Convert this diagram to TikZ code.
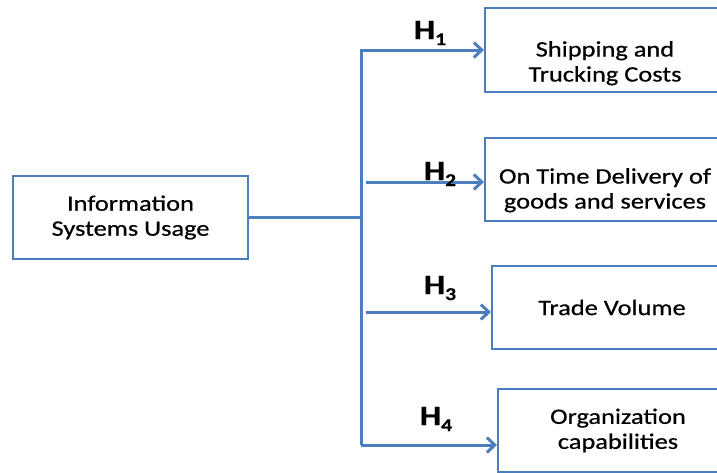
\documentclass[tikz,border=0pt]{standalone}
\usepackage{fontspec}
\setmainfont{Carlito}[FakeStretch=1.2, FakeBold=0.6]
\usetikzlibrary{arrows.meta}
\definecolor{lineblue}{RGB}{74,126,189}
\newcommand{\hyp}[1]{{\fontsize{28}{28}\selectfont\bfseries H\raisebox{-6pt}{\fontsize{18}{18}\selectfont #1}}}
\begin{document}
\begin{tikzpicture}[x=1pt, y=-1pt,
		box/.style={draw=lineblue, line width=2pt, minimum height=83pt, align=center, font=\fontsize{22}{25}\selectfont},
		link/.style={draw=lineblue, line width=3pt},
		arr/.style={link, -{Straight Barb[length=8pt, width=15pt]}}]
	\useasboundingbox (0,0) rectangle (717,472);
	\clip (0,0) rectangle (717,472);
	\node[box, minimum width=235pt] (isu) at (130.5,217.5) {Information\\Systems Usage};
	\node[box, minimum width=240pt, minimum height=84pt, text height=69pt, text depth=6pt] (ship) at (605,50) {Shipping and\\Trucking Costs};
	\node[box, minimum width=240pt, text height=65pt, text depth=6pt] (otd) at (605,179) {On Time Delivery of\\goods and services};
	\node[box, minimum width=240pt] (trade) at (612,307.5) {Trade Volume};
	\node[box, minimum width=240pt] (org) at (618,430.5) {Organization\\capabilities};
	\coordinate (s2) at (366,182);
	\coordinate (s3) at (366,312);
	\coordinate (s4) at (361,445);
	\draw[link] (isu.east) -- (isu.east -| s4);
	\draw[arr] (s4) |- (ship);
	\draw[arr] (s2) -- (s2 -| otd.west);
	\draw[arr] (s3) -- (s3 -| trade.west);
	\draw[arr] (s4) -- (s4 -| org.west);
	\node (h1) at (430,33) {\hyp{1}};
	\node (h2) at (440,174) {\hyp{2}};
	\node (h3) at (440,288) {\hyp{3}};
	\node (h4) at (436,419) {\hyp{4}};
\end{tikzpicture}
\end{document}
